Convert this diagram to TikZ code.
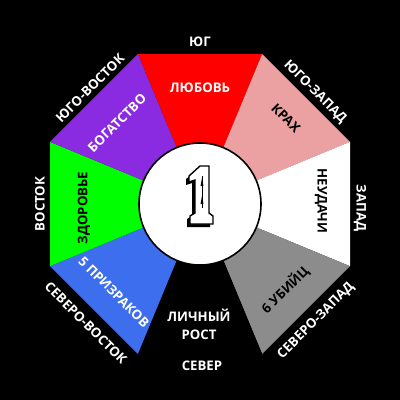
\documentclass[tikz,border=0pt]{standalone}
\usepackage{fontspec}
\setmainfont{Open Sans}
\definecolor{cred}{HTML}{FF0000}
\definecolor{cpink}{HTML}{EBA0A1}
\definecolor{cgray}{HTML}{8C8C8C}
\definecolor{cblue}{HTML}{3D6EEE}
\definecolor{cgreen}{HTML}{00FF00}
\definecolor{cpurple}{HTML}{8A2BE2}
\begin{document}
\begin{tikzpicture}[x=1pt,y=-1pt,
  lbl/.style={font=\bfseries\fontsize{13.2}{18}\selectfont, inner sep=0pt, align=center},
  wl/.style={lbl,text=white},
  bl/.style={lbl,text=black}]
\fill[black] (0,0) rectangle (400,400);
\useasboundingbox (0,0) rectangle (400,400);
\coordinate (C) at (200,204);
\coordinate (A) at (137.85,54);
\coordinate (B) at (262.15,54);
\coordinate (Cc) at (350,141.85);
\coordinate (D) at (350,266.15);
\coordinate (E) at (262.15,354);
\coordinate (F) at (137.85,354);
\coordinate (G) at (50,266.15);
\coordinate (H) at (50,141.85);
\fill[cred] (C) -- (A) -- (B) -- cycle;
\fill[cpink] (C) -- (B) -- (Cc) -- cycle;
\fill[white] (C) -- (Cc) -- (D) -- cycle;
\fill[cgray] (C) -- (D) -- (E) -- cycle;
\fill[black] (C) -- (E) -- (F) -- cycle;
\fill[cblue] (C) -- (F) -- (G) -- cycle;
\fill[cgreen] (C) -- (G) -- (H) -- cycle;
\fill[cpurple] (C) -- (H) -- (A) -- cycle;
\node[circle, fill=white, draw=black, line width=1.6pt, minimum size=122pt, inner sep=0pt] (circ) at (C) {};
% digit 1
\fill[black] (197,170) -- (206,170) -- (206,216) -- (210,219) -- (210,227) -- (187,227) -- (187,219) -- (192,216) -- (192,183) -- (186,185) -- (186,179) -- cycle;
\draw[black, fill=white, line width=1.4pt] (200,166) -- (209,166) -- (209,213) -- (213,216) -- (213,224) -- (190,224) -- (190,216) -- (195,213) -- (195,180) -- (189,182) -- (189,176) -- cycle;
\draw[black, line width=0.8pt] (202,176) -- (202,208);
\fill[black] (202,178) -- (200.5,186) -- (203.5,186) -- cycle;
\fill[black] (202,196) -- (200.5,204) -- (203.5,204) -- cycle;
% outer labels
\node[wl] (n1) at (200,42) {ЮГ};
\node[wl, rotate=-45] (n2) at (315,92) {ЮГО-ЗАПАД};
\node[wl, rotate=-90] (n3) at (360,208) {ЗАПАД};
\node[wl, rotate=45] (n4) at (316,321) {СЕВЕРО-ЗАПАД};
\node[wl] (n5) at (202,366) {СЕВЕР};
\node[wl, rotate=-45] (n6) at (86,323) {СЕВЕРО-ВОСТОК};
\node[wl, rotate=90] (n7) at (40,204) {ВОСТОК};
\node[wl, rotate=45] (n8) at (90,88) {ЮГО-ВОСТОК};
% inner labels
\node[wl] (s1) at (200,87.5) {ЛЮБОВЬ};
\node[bl, rotate=-45] (s2) at (286,118) {КРАХ};
\node[bl, rotate=-90] (s3) at (321,201) {НЕУДАЧИ};
\node[bl, rotate=45] (s4) at (285,290) {6 УБИЙЦ};
\node[wl] (s5) at (199,324) {ЛИЧНЫЙ\\РОСТ};
\node[wl, rotate=-45] (s6) at (114,292) {5 ПРИЗРАКОВ};
\node[bl, rotate=90] (s7) at (84,208) {ЗДОРОВЬЕ};
\node[wl, rotate=45] (s8) at (117,123) {БОГАТСТВО};
\end{tikzpicture}
\end{document}
